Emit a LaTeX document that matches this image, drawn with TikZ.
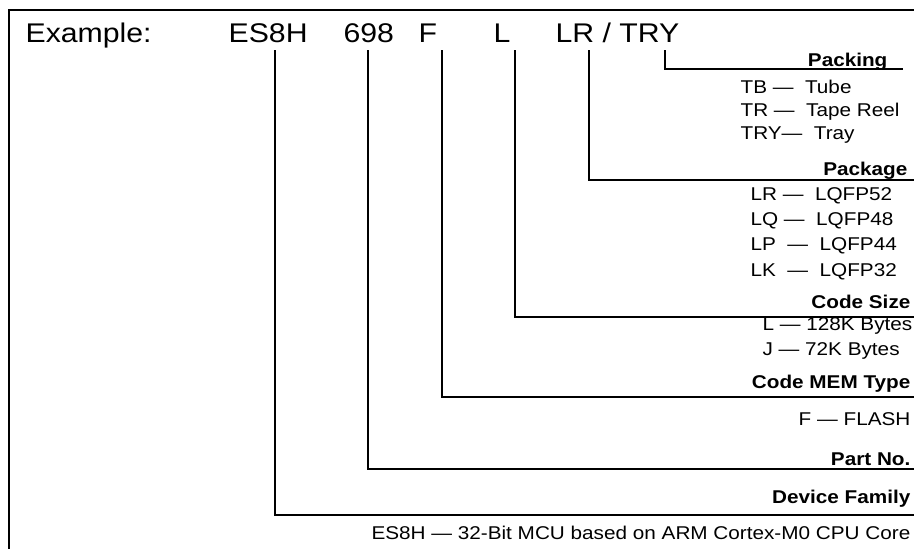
\documentclass[tikz,border=0pt]{standalone}
\usepackage{fontspec}
\setmainfont{Liberation Sans}[FakeStretch=1.12]
\begin{document}
\begin{tikzpicture}[x=1pt, y=-1pt, line width=1.2pt,
        hdr/.style={anchor=base west, inner sep=0pt, font=\fontsize{27}{30}\selectfont},
        lbl/.style={anchor=base east, inner sep=0pt, font=\fontsize{18.5}{20}\selectfont\bfseries},
        itm/.style={anchor=base west, inner sep=0pt, font=\fontsize{18.5}{20}\selectfont}]
        \useasboundingbox (0,0) rectangle (914,549);
        \draw [line width=2pt] (9,549)--(9,10)--(914,10);
        % part number
        \node [hdr] (ex) at (25,42) {Example:};
        \node [hdr] (fam) at (228,42) {ES8H};
        \node [hdr] (part) at (343,42) {698};
        \node [hdr] (mem) at (418,42) {F};
        \node [hdr] (size) at (493,42) {L};
        \node [hdr] (pkg) at (555,42) {LR / TRY};
        % lines down and out to the right
        \foreach \n/\x/\y/\e in {fam/275/515/914, part/368/469/914, mem/442/397/914, size/515/317/914, pkg/589/180/914, pack/665/69/903}
        {
                \coordinate (\n top) at (\x,50);
                \coordinate (\n end) at (\e,\y);
                \draw (\n top) |- (\n end);
        }
        % field names
        \node [lbl] (lpack) at (888,66) {Packing};
        \node [lbl] (lpkg) at (908,175) {Package};
        \node [lbl] (lsize) at (911,308) {Code Size};
        \node [lbl] (lmem) at (911,388) {Code MEM Type};
        \node [lbl] (lpart) at (911,465) {Part No.};
        \node [lbl] (lfam) at (911,503) {Device Family};
        % choices
        \foreach \y/\t [count=\i] in {93/TB — \ Tube, 116/TR — \ Tape Reel, 139/TRY— \ Tray}
        {
                \node [itm] (pack\i) at (740,\y) {\t};
        }
        \foreach \y/\t [count=\i] in {200/LR — \ LQFP52, 225/LQ — \ LQFP48, 250/LP \ — \ LQFP44, 276/LK \ — \ LQFP32}
        {
                \node [itm] (pkg\i) at (750,\y) {\t};
        }
        \node [itm] (size1) at (762,330) {L — 128K Bytes};
        \node [itm] (size2) at (762,355) {J — 72K Bytes};
        \node [itm, anchor=base east] (mem1) at (911,425) {F — FLASH};
        \node [itm, anchor=base east] (fam1) at (911,539) {ES8H — 32-Bit MCU based on ARM Cortex-M0 CPU Core};
\end{tikzpicture}
\end{document}
